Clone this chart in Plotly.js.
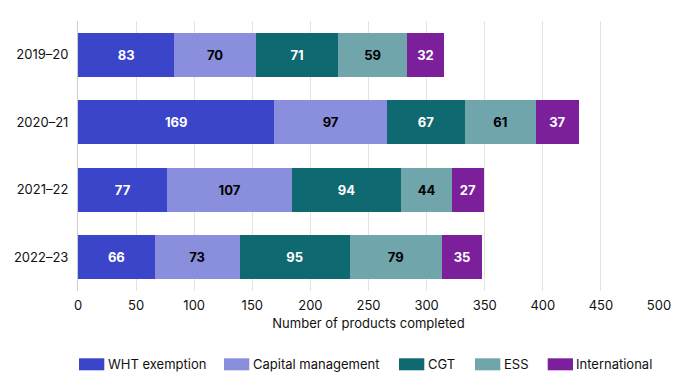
<!DOCTYPE html>
<html><head><meta charset="utf-8">
<script src="https://cdn.plot.ly/plotly-3.0.1.min.js"></script>
<style>body{margin:0;padding:0;background:#fff}#chart{width:689px;height:392px}</style>
</head><body><div id="chart"></div>
<script>
const years = ["2019–20","2020–21","2021–22","2022–23"];
const seriesNames = ["WHT exemption","Capital management","CGT","ESS","International"];
const wht = [83,169,77,66];
const capital = [70,97,107,73];
const cgt = [71,67,94,95];
const ess = [59,61,44,79];
const intl = [32,37,27,35];
const colors = ["#3b45c9","#8a8fdd","#0e6970","#6fa5ab","#7b1f9b"];
const textColors = ["#ffffff","#000000","#ffffff","#000000","#ffffff"];
const values = [wht,capital,cgt,ess,intl];
const traces = values.map((v,i)=>({
  type:"bar", orientation:"h", name:seriesNames[i], y:years, x:v,
  marker:{color:colors[i], line:{width:0}},
  text:v.map(String), textposition:"inside", insidetextanchor:"middle",
  textfont:{family:"Inter, sans-serif", size:13, color:textColors[i], weight:700},
  hoverinfo:"x+name", constraintext:"none", showlegend:false
}));
// custom legend (pixel layout -> paper coords)
const L=78, W=581, T=21, H=270;
const px = p => (p-L)/W, py = p => (T+H-p)/H;
const legX = [79,224,399,475,547.7];
const shapes = [], annotations = [];
seriesNames.forEach((n,i)=>{
  shapes.push({type:"rect", xref:"paper", yref:"paper",
    x0:px(legX[i]), x1:px(legX[i]+25.3), y0:py(370.3), y1:py(358.3),
    fillcolor:colors[i], line:{width:0}});
  annotations.push({xref:"paper", yref:"paper", x:px(legX[i]+26.5), y:py(364.3),
    xanchor:"left", yanchor:"middle", showarrow:false, text:n,
    font:{family:"Inter, sans-serif", size:13, color:"#111"}});
});
const layout = {
  width:689, height:392, barmode:"stack", bargap:0.346,
  margin:{l:L,r:689-L-W,t:T,b:392-T-H},
  paper_bgcolor:"#fff", plot_bgcolor:"#fff",
  font:{family:"Inter, sans-serif", size:13, color:"#111"},
  xaxis:{range:[0,500], dtick:50, tick0:0, showgrid:true, gridcolor:"#e3e3e3", gridwidth:1,
    zeroline:false, ticks:"", ticklabelstandoff:5,
    tickfont:{size:13,color:"#111"},
    title:{text:"Number of products completed", font:{size:13,color:"#111"}, standoff:6}},
  yaxis:{autorange:"reversed", categoryorder:"array", categoryarray:years,
    showline:true, linecolor:"#cccccc", linewidth:1, ticks:"", ticklabelstandoff:6,
    tickfont:{size:13,color:"#111"}},
  showlegend:false, shapes:shapes, annotations:annotations
};
Plotly.newPlot("chart", traces, layout, {displayModeBar:false, staticPlot:true});
</script></body></html>
